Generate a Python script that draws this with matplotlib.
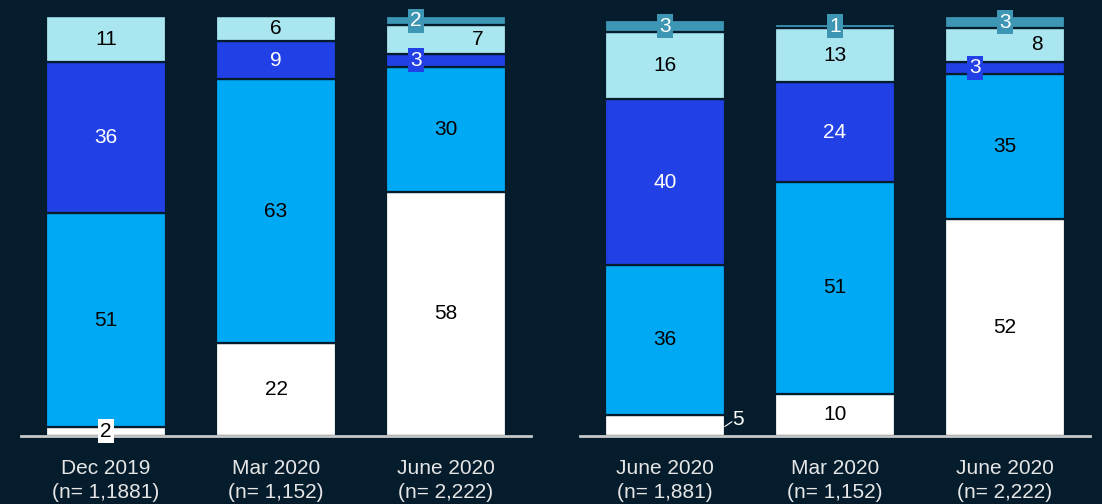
import matplotlib.pyplot as plt
import numpy as np

plt.rcParams['font.family'] = ['Liberation Sans', 'DejaVu Sans']

BG = "#051C2C"
series_names = ["white", "cyan", "blue", "pale", "teal"]
series_colors = ["#FFFFFF", "#00A9F4", "#2140E6", "#AAE6F0", "#3C96B4"]
text_colors = ["black", "black", "white", "black", "white"]

left_labels = ["Dec 2019\n(n= 1,1881)", "Mar 2020\n(n= 1,152)", "June 2020\n(n= 2,222)"]
left_white = [2, 22, 58]
left_cyan = [51, 63, 30]
left_blue = [36, 9, 3]
left_pale = [11, 6, 7]
left_teal = [0, 0, 2]

right_labels = ["June 2020\n(n= 1,881)", "Mar 2020\n(n= 1,152)", "June 2020\n(n= 2,222)"]
right_white = [5, 10, 52]
right_cyan = [36, 51, 35]
right_blue = [40, 24, 3]
right_pale = [16, 13, 8]
right_teal = [3, 1, 3]

FS = 15
W = 120 / 170.0
SHIFT = 30 / 170.0


def draw_panel(ax, labels, stacks, left_panel, ytop):
    x = np.arange(len(labels))
    bottom = np.zeros(len(labels))
    for i, vals in enumerate(stacks):
        vals = np.array(vals, dtype=float)
        name = series_names[i]
        ax.bar(x, vals, W, bottom=bottom, color=series_colors[i],
               edgecolor=BG, linewidth=1.6, zorder=2)
        for j, v in enumerate(vals):
            if v <= 0:
                continue
            yc = bottom[j] + v / 2
            small = v < 5
            # bars with tiny blue segments push the pale label to the right
            crowded = stacks[2][j] < 5
            xt = x[j]
            if name == "pale" and crowded:
                xt = x[j] + SHIFT + 0.01
            if small:
                if name == "blue" or (name == "teal" and left_panel and crowded):
                    xt = x[j] - SHIFT
                ax.text(xt, yc, str(int(v)), ha="center", va="center",
                        fontsize=FS, color=text_colors[i], zorder=4,
                        bbox=dict(boxstyle="square,pad=0.12",
                                  fc=series_colors[i], ec="none"))
            elif name == "white" and v == 5:
                xr = x[j] + W / 2
                ax.plot([xr, xr + 0.04], [yc - 0.3, yc + 0.8], color="white",
                        lw=0.8, zorder=4, clip_on=False)
                ax.text(xr + 0.045, yc + 1.3, str(int(v)), ha="left", va="center",
                        fontsize=FS, color="white", zorder=4)
            else:
                ax.text(xt, yc, str(int(v)), ha="center", va="center",
                        fontsize=FS, color=text_colors[i], zorder=4)
        bottom += vals

    ax.set_facecolor(BG)
    ax.set_xlim(-0.5, len(labels) - 0.5)
    ax.set_ylim(0, ytop)
    ax.axhline(0, color="#C8C8C8", lw=2, zorder=3, clip_on=False)
    for s in ax.spines.values():
        s.set_visible(False)
    ax.set_yticks([])
    ax.set_xticks(x)
    ax.set_xticklabels(labels, fontsize=FS, color="#E6E6E6", linespacing=1.3)
    ax.tick_params(axis="x", length=0, pad=17)


fig = plt.figure(figsize=(11.02, 5.04), dpi=100, facecolor=BG)
ax1 = fig.add_axes([21 / 1102, 68.5 / 504, 510 / 1102, 435.5 / 504])
ax2 = fig.add_axes([580 / 1102, 68.5 / 504, 510 / 1102, 435.5 / 504])

draw_panel(ax1, left_labels, [left_white, left_cyan, left_blue, left_pale, left_teal], True, 103.9)
draw_panel(ax2, right_labels, [right_white, right_cyan, right_blue, right_pale, right_teal], False, 104.8)

fig.savefig("out.png", dpi=100, facecolor=BG)
